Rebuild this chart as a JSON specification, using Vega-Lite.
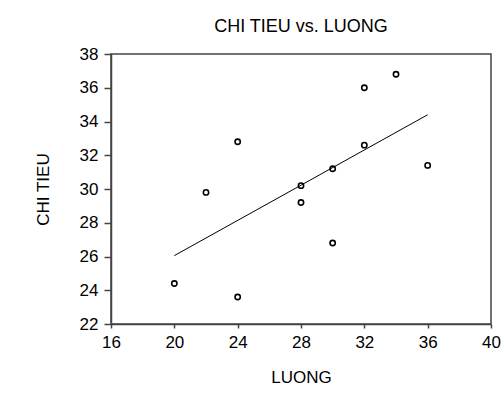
{
  "$schema": "https://vega.github.io/schema/vega-lite/v6.json",
  "width": 380,
  "height": 270,
  "autosize": {"type": "none"},
  "padding": {"left": 111, "top": 54, "right": 13, "bottom": 79},
  "background": "white",
  "title": {
    "text": "CHI TIEU vs. LUONG",
    "font": "Liberation Sans",
    "fontSize": 18,
    "fontWeight": "normal",
    "color": "black",
    "offset": 9,
    "anchor": "middle"
  },
  "config": {
    "view": {"stroke": "#444444", "strokeWidth": 1.5},
    "axis": {
      "labelFont": "Liberation Sans",
      "labelFontSize": 17,
      "labelColor": "black",
      "labelOverlap": false,
      "labelBound": false,
      "labelFlush": false,
      "titleFont": "Liberation Sans",
      "titleFontSize": 17,
      "titleFontWeight": "normal",
      "titleColor": "black",
      "domainColor": "#444444",
      "domainWidth": 1.5,
      "tickColor": "#444444",
      "tickWidth": 1.5,
      "grid": false
    }
  },
  "data": {
    "values": [
      {"LUONG": 20, "CHI_TIEU": 24.4},
      {"LUONG": 22, "CHI_TIEU": 29.8},
      {"LUONG": 24, "CHI_TIEU": 32.8},
      {"LUONG": 24, "CHI_TIEU": 23.6},
      {"LUONG": 28, "CHI_TIEU": 30.2},
      {"LUONG": 28, "CHI_TIEU": 29.2},
      {"LUONG": 30, "CHI_TIEU": 31.2},
      {"LUONG": 30, "CHI_TIEU": 26.8},
      {"LUONG": 32, "CHI_TIEU": 36.0},
      {"LUONG": 32, "CHI_TIEU": 32.6},
      {"LUONG": 34, "CHI_TIEU": 36.8},
      {"LUONG": 36, "CHI_TIEU": 31.4}
    ]
  },
  "layer": [
    {
      "mark": {"type": "point", "shape": "circle", "filled": false, "color": "black", "size": 28, "strokeWidth": 1.6, "opacity": 1},
      "encoding": {
        "x": {
          "field": "LUONG", "type": "quantitative",
          "scale": {"domain": [16, 40], "nice": false, "zero": false},
          "axis": {"values": [16, 20, 24, 28, 32, 36, 40], "tickCount": 20, "title": "LUONG", "tickSize": 4, "labelPadding": 6, "titlePadding": 19}
        },
        "y": {
          "field": "CHI_TIEU", "type": "quantitative",
          "scale": {"domain": [22, 38], "nice": false, "zero": false},
          "axis": {"values": [22, 24, 26, 28, 30, 32, 34, 36, 38], "tickCount": 20, "labelOverlap": false, "title": "CHI TIEU", "tickSize": 7, "labelPadding": 6, "titlePadding": 27}
        }
      }
    },
    {
      "transform": [{"regression": "CHI_TIEU", "on": "LUONG"}],
      "mark": {"type": "line", "color": "black", "strokeWidth": 1},
      "encoding": {
        "x": {"field": "LUONG", "type": "quantitative"},
        "y": {"field": "CHI_TIEU", "type": "quantitative"}
      }
    }
  ]
}
